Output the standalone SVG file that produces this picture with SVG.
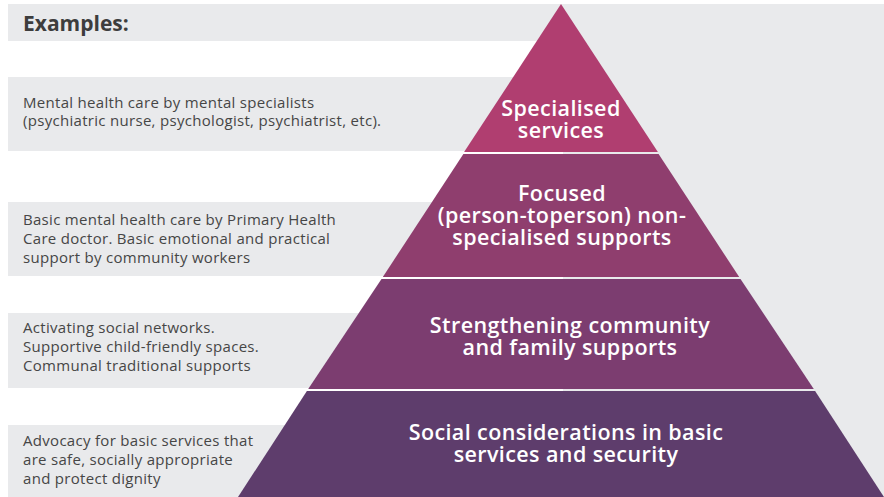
<svg xmlns="http://www.w3.org/2000/svg" width="884" height="497" viewBox="0 0 884 497">
  <style>
    .band { fill: #e9eaec; }
    .ex { font-family: "Open Sans", "Liberation Sans", sans-serif; font-size: 15px; letter-spacing: 0.3px; fill: #464646; }
    .head { font-family: "Open Sans", "Liberation Sans", sans-serif; font-size: 21px; font-weight: 700; fill: #3d3d3d; }
    .tier-label { font-family: "Open Sans", "Liberation Sans", sans-serif; font-size: 21.5px; letter-spacing: 0.4px; font-weight: 600; fill: #ffffff; text-anchor: middle; }
  </style>

  <!-- background panel on the right half -->
  <rect class="band" x="563" y="4" width="321" height="493"/>

  <!-- example bands -->
  <g id="examples-heading">
    <rect class="band" x="8" y="4" width="555" height="37"/>
    <text class="head" x="23" y="31">Examples:</text>
  </g>
  <g id="example-specialised">
    <rect class="band" x="8" y="77" width="555" height="74"/>
    <text class="ex" x="23" y="108">Mental health care by mental specialists</text>
    <text class="ex" x="23" y="126">(psychiatric nurse, psychologist, psychiatrist, etc).</text>
  </g>
  <g id="example-focused">
    <rect class="band" x="8" y="202" width="555" height="74"/>
    <text class="ex" x="23" y="225">Basic mental health care by Primary Health</text>
    <text class="ex" x="23" y="244">Care doctor. Basic emotional and practical</text>
    <text class="ex" x="23" y="263">support by community workers</text>
  </g>
  <g id="example-community">
    <rect class="band" x="8" y="313" width="555" height="75"/>
    <text class="ex" x="23" y="333">Activating social networks.</text>
    <text class="ex" x="23" y="352">Supportive child-friendly spaces.</text>
    <text class="ex" x="23" y="371">Communal traditional supports</text>
  </g>
  <g id="example-basic">
    <rect class="band" x="8" y="425" width="555" height="72"/>
    <text class="ex" x="23" y="446">Advocacy for basic services that</text>
    <text class="ex" x="23" y="465">are safe, socially appropriate</text>
    <text class="ex" x="23" y="484">and protect dignity</text>
  </g>

  <!-- pyramid tiers: apex (561,4), sides x = 561 ± 0.655*(y-4) -->
  <g id="tier-specialised">
    <polygon points="561,4 657.9,152 464.1,152" fill="#b03e70"/>
    <text class="tier-label" x="561" y="116">Specialised</text>
    <text class="tier-label" x="561" y="138">services</text>
  </g>
  <g id="tier-focused">
    <polygon points="463.4,154 658.6,154 739.2,277 382.8,277" fill="#8f3e6e"/>
    <text class="tier-label" x="562" y="201">Focused</text>
    <text class="tier-label" x="562" y="223">(person-toperson) non-</text>
    <text class="tier-label" x="562" y="245">specialised supports</text>
  </g>
  <g id="tier-community">
    <polygon points="381.5,279 740.5,279 813.8,389 308.2,389" fill="#7c3d70"/>
    <text class="tier-label" x="570" y="333">Strengthening community</text>
    <text class="tier-label" x="570" y="355">and family supports</text>
  </g>
  <g id="tier-basic">
    <polygon points="306.9,391 815.1,391 884,497 238,497" fill="#5e3d6c"/>
    <text class="tier-label" x="566" y="440">Social considerations in basic</text>
    <text class="tier-label" x="566" y="462">services and security</text>
  </g>
</svg>
